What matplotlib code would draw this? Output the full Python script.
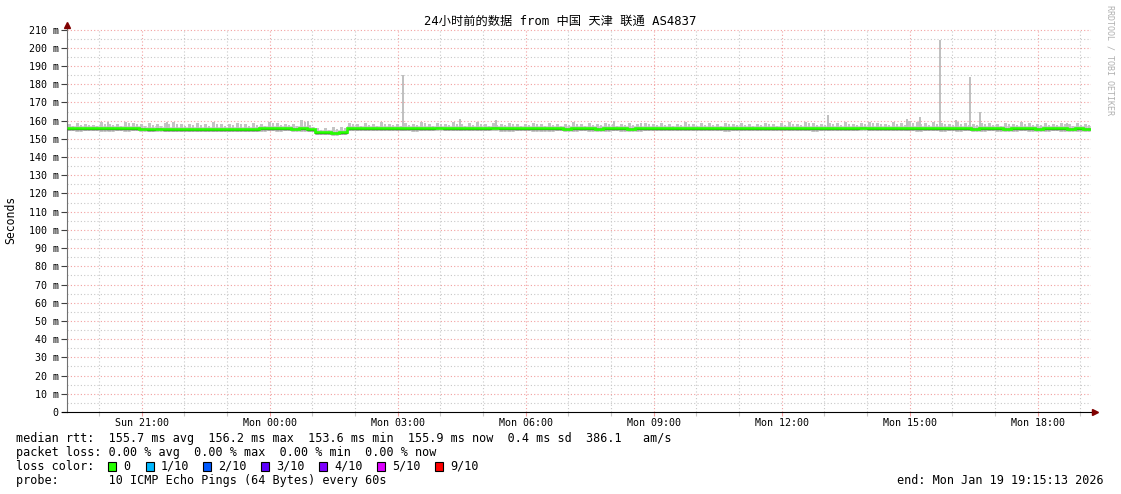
import numpy as np
import matplotlib
matplotlib.use("Agg")
import matplotlib.pyplot as plt
from matplotlib.patches import Rectangle

W, H = 1121, 494
START_CLOCK = 19 + 15/60 + 13/3600   # Sun 19:15:13
SPAN_H = 24.0

# ---- data (ms), 128 bins of 11.25 min across 24 h ----
median_ms = [
 155.9,155.8,155.7,155.9,155.8,155.7,155.8,155.9,155.7,155.6,
 155.5,155.6,155.4,155.3,155.2,155.3,155.2,155.3,155.4,155.2,
 155.3,155.2,155.4,155.5,155.7,155.8,155.7,155.8,155.6,155.7,
 155.4,153.8,153.5,153.4,153.6,155.9,156.0,155.9,156.0,155.8,
 155.9,156.0,155.9,155.8,155.9,156.0,156.1,155.9,155.8,155.9,
 156.0,155.9,156.0,156.1,155.8,155.7,155.8,155.9,155.8,155.7,
 155.7,155.8,155.6,155.7,155.8,155.7,155.6,155.7,155.8,155.7,
 155.6,155.7,155.8,155.9,155.8,155.9,155.8,155.9,156.0,155.8,
 155.9,155.8,155.7,155.9,155.8,155.9,156.0,155.9,155.8,155.9,
 155.9,155.8,155.9,155.7,155.8,155.9,156.0,155.8,155.9,156.1,
 156.0,155.9,155.8,155.9,156.0,155.8,155.7,155.8,155.9,155.7,
 155.8,155.7,155.8,155.6,155.7,155.8,155.7,155.6,155.7,155.8,
 155.7,155.6,155.7,155.8,155.7,155.6,155.7,155.6,
]
smoke_lo_ms = [
 154.1,154.0,154.2,154.1,154.0,153.9,154.1,154.0,154.1,154.0,
 153.8,153.9,153.7,153.6,153.5,153.7,153.6,153.5,153.7,153.6,
 153.5,153.6,153.8,153.9,154.0,154.1,154.0,154.1,153.9,154.0,
 153.7,152.1,151.9,151.8,152.0,154.2,154.3,154.2,154.3,154.1,
 154.2,154.3,154.1,154.0,154.2,154.3,154.4,154.2,154.1,154.2,
 154.3,154.1,154.3,154.4,154.0,154.0,154.1,154.2,154.0,153.9,
 154.0,154.1,153.8,154.0,154.1,153.9,153.8,154.0,154.1,154.0,
 153.9,154.0,154.1,154.2,154.1,154.2,154.1,154.2,154.3,154.1,
 154.2,154.1,154.0,154.2,154.1,154.2,154.3,154.1,154.1,154.2,
 154.2,154.1,154.2,154.0,154.1,154.2,154.3,154.1,154.2,154.4,
 154.3,154.2,154.1,154.2,154.3,154.1,154.0,154.1,154.2,154.0,
 154.1,154.0,154.1,153.9,154.0,154.1,154.0,153.9,154.0,154.1,
 154.0,153.9,154.0,154.1,154.0,153.9,154.0,153.9,
]
smoke_hi_ms = [
 158.0,158.7,158.3,157.8,159.1,158.4,158.1,159.4,158.9,158.2,
 158.5,157.9,158.8,159.2,158.1,158.4,158.6,158.0,159.3,158.2,
 158.4,158.9,158.1,158.5,158.0,159.4,158.7,158.3,157.9,160.1,
 157.6,156.0,155.8,156.4,156.7,158.8,158.2,158.6,158.0,159.1,
 158.4,158.1,158.7,158.3,159.4,158.1,158.8,158.4,159.1,158.0,
 158.5,159.2,158.1,158.6,158.3,158.8,158.0,158.4,158.9,158.1,
 158.7,158.2,158.4,159.0,158.1,158.6,158.3,158.8,158.0,158.4,
 158.5,158.1,158.9,158.3,158.6,158.0,158.4,159.1,158.2,158.7,
 158.5,158.1,158.8,158.3,158.6,158.0,158.4,158.9,158.2,158.7,
 159.0,158.3,159.4,158.7,158.4,158.9,158.5,159.1,158.3,158.8,
 159.5,158.9,158.4,159.1,158.7,159.8,159.0,158.5,159.2,158.8,
 158.4,159.1,158.7,158.3,158.9,158.5,158.2,158.8,158.4,159.0,
 158.6,158.3,158.7,158.4,158.8,158.2,158.5,158.3,
]
# isolated high smoke samples: (clock hour, max ms)
spike_clock = [20.22, 21.6, 24.9, 27.13, 28.47, 29.3, 32.07, 32.7, 37.08, 38.95, 39.25, 39.72, 40.1, 40.42, 40.65, 42.7]
spike_ms    = [159.2, 159.0, 160.0, 185.0, 161.0, 160.2, 160.0, 158.6, 163.0, 161.0, 162.0, 204.0, 160.5, 184.0, 165.0, 158.6]

yticks_ms = list(range(0, 211, 10))
ytick_labels = ["0"] + [f"{v} m" for v in yticks_ms[1:]]
xtick_clock = [21, 24, 27, 30, 33, 36, 39, 42]
xtick_labels = ["Sun 21:00", "Mon 00:00", "Mon 03:00", "Mon 06:00",
                "Mon 09:00", "Mon 12:00", "Mon 15:00", "Mon 18:00"]

loss_labels = ["0", "1/10", "2/10", "3/10", "4/10", "5/10", "9/10"]
loss_colors = ["#26ff00", "#00b8ff", "#0059ff", "#5e00ff", "#7e00ff", "#dd00ff", "#ff0000"]

MONO = "DejaVu Sans Mono"
plt.rcParams['font.family'] = [MONO, 'Noto Sans CJK SC']

fig = plt.figure(figsize=(W/100, H/100), dpi=100)
L, R, T, B = 67, 1091, 29, 412
ax = fig.add_axes([L/W, 1 - B/H, (R-L)/W, (B-T)/H])
ax.set_xlim(0, SPAN_H)
ax.set_ylim(0, 210.3)

# grid
for h in range(20, 44):
    x = h - START_CLOCK
    if 0 < x < SPAN_H:
        major = (h % 3 == 0)
        ax.axvline(x, color="#f2a0a0" if major else "#c8c8c8", lw=0.8,
                   ls=(0, (1, 2)), zorder=0)
for v in range(5, 211, 5):
    major = (v % 10 == 0)
    ax.axhline(v, color="#f2a0a0" if major else "#c8c8c8", lw=0.8,
               ls=(0, (1, 2)), zorder=0)

# smoke: base band plus narrower jagged bars
n = len(median_ms)
bw = SPAN_H / n
xs = (np.arange(n) + 0.5) * bw
lo = np.array(smoke_lo_ms); hi = np.array(smoke_hi_ms)
med = np.array(median_ms)
ax.bar(xs, (med + 1.2) - lo, bottom=lo, width=bw, color="#d4d4d4", lw=0, zorder=2)
ax.bar(xs - 0.2 * bw, hi - lo, bottom=lo, width=0.35 * bw, color="#c4c4c4", lw=0, zorder=2)
ax.bar(xs + 0.25 * bw, (hi - 0.9) - lo, bottom=lo, width=0.25 * bw, color="#c4c4c4", lw=0, zorder=2)
sx = np.array(spike_clock) - START_CLOCK
ax.bar(sx, np.array(spike_ms) - 154.5, bottom=154.5, width=2/42.67,
       color="#c0c0c0", lw=0, zorder=2)

# median
edges = np.arange(n + 1) * bw
ax.stairs(med - 0.4, edges, color="#202020", lw=1.0, zorder=3, baseline=None)
ax.stairs(med, edges, color="#26ff00", lw=1.9, zorder=4, baseline=None)

# axes styling
for s in ["top", "right"]:
    ax.spines[s].set_visible(False)
ax.spines["left"].set_color("#707070")
ax.spines["bottom"].set_color("#000000")
ax.spines["left"].set_bounds(0, 212.5)
ax.set_yticks(yticks_ms)
ax.set_yticklabels(ytick_labels)
ax.set_xticks([c - START_CLOCK for c in xtick_clock])
ax.set_xticklabels(xtick_labels)
ax.tick_params(axis="y", length=4, width=0.8, color="#404040", pad=2, labelsize=7.2)
ax.tick_params(axis="x", length=3, width=0.8, color="#f2a0a0", pad=1, labelsize=7.2)
minor_x = [h - START_CLOCK for h in range(20, 44) if h % 3 != 0 and 0 < h - START_CLOCK < SPAN_H]
ax.set_xticks(minor_x, minor=True)
ax.tick_params(axis="x", which="minor", length=3, width=0.8, color="#c8c8c8")
ax.tick_params(axis="y", which="minor", length=0)

# arrows
ax.plot([0], [212.5], marker="^", color="#800000", ms=4, clip_on=False, zorder=6)
ax.plot([SPAN_H + 0.09], [0], marker=">", color="#800000", ms=4, clip_on=False, zorder=6)
ax.plot([SPAN_H, SPAN_H + 0.06], [0, 0], color="black", lw=0.8, clip_on=False)
ax.plot([-0.12, 0], [0, 0], color="black", lw=0.8, clip_on=False)

def ftxt(x, y, s, **kw):
    kw.setdefault("va", "center")
    kw.setdefault("family", MONO)
    return fig.text(x/W, 1 - y/H, s, **kw)

ftxt(560, 21, "24小时前的数据 from 中国 天津 联通 AS4837", ha="center", fontsize=8.8,
     family=[MONO, "Noto Sans CJK SC"], color="#000000")
ftxt(11, 220, "Seconds", ha="center", rotation=90, fontsize=8.3)
ftxt(1110, 60, "RRDTOOL / TOBI OETIKER", ha="center", rotation=270, fontsize=6.0,
     color="#b0b0b0")

FS = 8.5
ftxt(16, 438, "median rtt:  155.7 ms avg  156.2 ms max  153.6 ms min  155.9 ms now  0.4 ms sd  386.1   am/s", fontsize=FS)
ftxt(16, 452, "packet loss: 0.00 % avg  0.00 % max  0.00 % min  0.00 % now", fontsize=FS)
ftxt(16, 466, "loss color:", fontsize=FS)
box_x = [108, 146, 203, 261, 319, 377, 435]
for bx, lab, col in zip(box_x, loss_labels, loss_colors):
    fig.patches.append(Rectangle((bx/W, 1 - 471/H), 8/W, 9/H, transform=fig.transFigure,
                                 facecolor=col, edgecolor="black", lw=0.8))
    ftxt(bx + 15, 466, lab, fontsize=FS)
ftxt(16, 480, "probe:       10 ICMP Echo Pings (64 Bytes) every 60s", fontsize=FS)
ftxt(1104, 480, "end: Mon Jan 19 19:15:13 2026", ha="right", fontsize=FS)

fig.savefig("out.png", dpi=100)
